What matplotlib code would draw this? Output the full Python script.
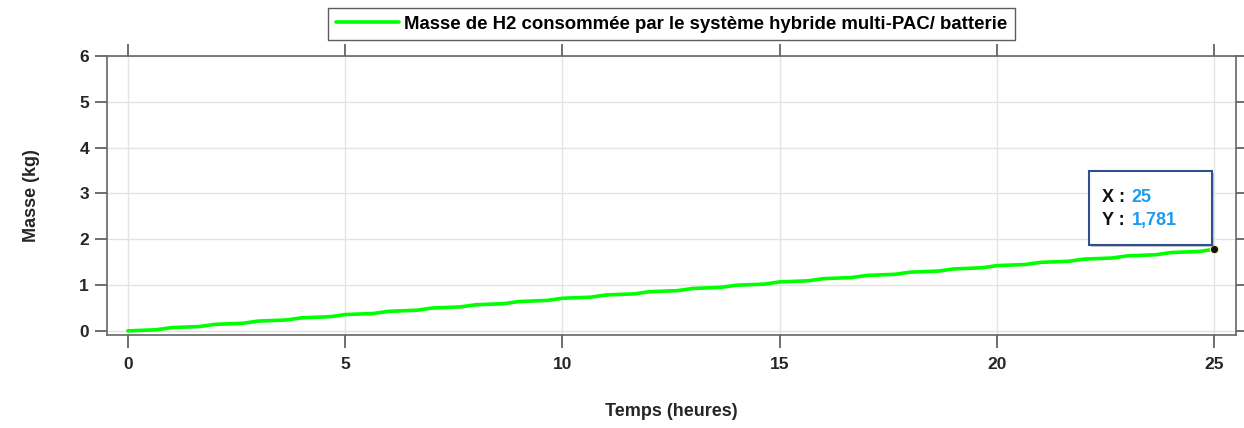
import matplotlib
matplotlib.use("Agg")
import matplotlib.pyplot as plt
import matplotlib.patheffects as pe
from matplotlib.patches import Rectangle

plt.rcParams["font.family"] = ["Liberation Sans", "DejaVu Sans"]
plt.rcParams["font.weight"] = "bold"

# hydrogen mass consumed (kg) vs time (h): hourly steps with a short plateau
temps = [0, 0.65, 1, 1.65, 2, 2.65, 3, 3.65, 4, 4.65, 5, 5.65, 6, 6.65, 7, 7.65,
         8, 8.65, 9, 9.65, 10, 10.65, 11, 11.65, 12, 12.65, 13, 13.65, 14, 14.65,
         15, 15.65, 16, 16.65, 17, 17.65, 18, 18.65, 19, 19.65, 20, 20.65, 21, 21.65,
         22, 22.65, 23, 23.65, 24, 24.65, 25]
masse = [0.000, 0.024, 0.071, 0.095, 0.142, 0.166, 0.214, 0.238, 0.285, 0.309,
         0.356, 0.380, 0.427, 0.451, 0.499, 0.523, 0.570, 0.594, 0.641, 0.665,
         0.712, 0.736, 0.784, 0.808, 0.855, 0.879, 0.926, 0.950, 0.997, 1.021,
         1.069, 1.093, 1.140, 1.164, 1.211, 1.235, 1.282, 1.306, 1.353, 1.377,
         1.425, 1.449, 1.496, 1.520, 1.567, 1.591, 1.638, 1.662, 1.710, 1.734,
         1.781]
x_ticks = [0, 5, 10, 15, 20, 25]
y_ticks = [0, 1, 2, 3, 4, 5, 6]
label = "Masse de H2 consommée par le système hybride multi-PAC/ batterie"
pt_x, pt_y = 25, 1.781

fig = plt.figure(figsize=(12.44, 4.28), dpi=100)
ax = fig.add_axes([0.086, 0.2173, 0.9077, 0.6517])

ax.plot(temps, masse, color="#00ff00", lw=2.6, label=label, solid_capstyle="round")
ax.set_xlim(-0.48, 25.5)
ax.set_ylim(-0.09, 6.0)
ax.set_xticks(x_ticks)
ax.set_yticks(y_ticks)
ax.grid(True, color="#e3e3e3", lw=1)
ax.set_axisbelow(True)

for s in ax.spines.values():
    s.set_color("#666666")
    s.set_linewidth(1.2)
ax.tick_params(axis="both", direction="out", colors="#555555", labelcolor="#262626",
               labelsize=12.5, width=1.2, top=True, right=True)
ax.tick_params(axis="x", length=9, pad=7)
ax.tick_params(axis="y", length=9, pad=4)
for t in ax.get_xticklabels() + ax.get_yticklabels():
    t.set_fontweight("bold")

ax.set_xlabel("Temps (heures)", fontsize=13, fontweight="bold", color="#262626", labelpad=22)
ax.set_ylabel("Masse (kg)", fontsize=13, fontweight="bold", color="#262626", labelpad=28)

leg = ax.legend(loc="lower center", bbox_to_anchor=(0.5, 1.0), fontsize=13.4,
                frameon=True, fancybox=False, edgecolor="#333333", handlelength=3.4,
                borderpad=0.4, handletextpad=0.3, borderaxespad=0.85)
leg.get_frame().set_linewidth(1.0)
for t in leg.get_texts():
    t.set_fontweight("bold")

# data tip on the last point
ax.plot([pt_x], [pt_y], "o", color="#111111", ms=6, mec="#f5f0b0", mew=0.8, zorder=5)
box = Rectangle((22.12, 1.88), 2.83, 1.62, fc="white", ec="#2f4f8f", lw=1.5, zorder=6,
                path_effects=[pe.SimplePatchShadow(offset=(1.5, -1.5), alpha=0.3), pe.Normal()])
ax.add_patch(box)
ax.text(22.42, 2.92, "X :", fontsize=13, fontweight="bold", color="#111111", va="center", zorder=7)
ax.text(23.1, 2.92, f"{pt_x}", fontsize=13, fontweight="bold", color="#1e9bf0", va="center", zorder=7)
ax.text(22.42, 2.42, "Y :", fontsize=13, fontweight="bold", color="#111111", va="center", zorder=7)
ax.text(23.1, 2.42, f"{pt_y:.3f}".replace(".", ","), fontsize=13, fontweight="bold",
        color="#1e9bf0", va="center", zorder=7)

fig.savefig("out.png", dpi=100)
